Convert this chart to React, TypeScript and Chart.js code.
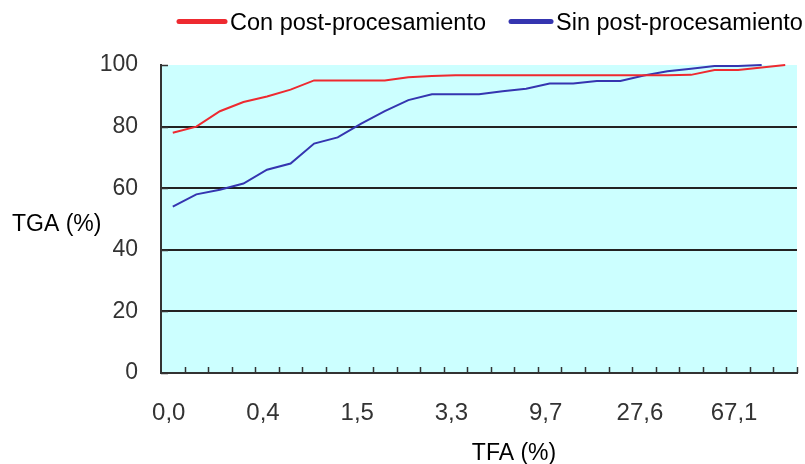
import React, { useEffect, useRef } from "react";
import { Chart, registerables } from "chart.js";

Chart.register(...registerables);

// TFA (%) category labels (only every 4th category is labelled in the original)
const TFA_LABELS = [
  "0,0", "", "", "", "0,4", "", "", "", "1,5", "", "", "", "3,3", "", "", "",
  "9,7", "", "", "", "27,6", "", "", "", "67,1", "", "",
];

// TGA (%) values
const CON_POST = [
  78, 80, 85, 88, 89.8, 92, 95, 95, 95, 95, 96, 96.4, 96.7, 96.7, 96.7, 96.7,
  96.7, 96.7, 96.7, 96.7, 96.7, 96.7, 96.8, 98.4, 98.4, 99.2, 100,
];
const SIN_POST = [
  54, 58, 59.5, 61.5, 66, 68, 74.5, 76.5, 81, 85, 88.6, 90.5, 90.5, 90.5, 91.5,
  92.3, 94, 94, 94.8, 94.8, 96.6, 98, 98.8, 99.7, 99.7, 100, null,
];

const SERIES_NAMES = ["Con post-procesamiento", "Sin post-procesamiento"];
const Y_TICKS_MAX = 100;
const Y_STEP = 20;

const FONT = '"Liberation Sans", Arial, sans-serif';
const RED = "#ee2a30";
const BLUE = "#3535b0";
const PLOT_BG = "#ccffff";
const AXIS = "#333333";

const decorPlugin = {
  id: "decor",
  beforeDraw(chart: any) {
    const { ctx, chartArea } = chart;
    ctx.save();
    ctx.fillStyle = "#ffffff";
    ctx.fillRect(0, 0, chart.width, chart.height);
    ctx.fillStyle = PLOT_BG;
    ctx.fillRect(chartArea.left, chartArea.top, chartArea.right - chartArea.left, chartArea.bottom - chartArea.top);
    ctx.restore();
  },
  afterDatasetsDraw(chart: any) {
    const { ctx, chartArea, scales } = chart;
    const xs = scales.x;
    const ys = scales.y;
    ctx.save();
    ctx.strokeStyle = AXIS;
    ctx.lineWidth = 1.5;
    // inward tick marks on x axis at category boundaries
    const n = chart.data.labels.length;
    const half = (xs.getPixelForValue(1) - xs.getPixelForValue(0)) / 2;
    for (let i = 1; i <= n; i++) {
      const x = Math.round(xs.getPixelForValue(i - 1) + half) + 0.5;
      ctx.beginPath();
      ctx.moveTo(x, chartArea.bottom);
      ctx.lineTo(x, chartArea.bottom - 6);
      ctx.stroke();
    }
    // inward tick marks on y axis
    ys.ticks.forEach((t: any) => {
      const y = Math.round(ys.getPixelForValue(t.value)) + 0.5;
      ctx.beginPath();
      ctx.moveTo(chartArea.left, y);
      ctx.lineTo(chartArea.left + 7, y);
      ctx.stroke();
    });
    ctx.restore();
  },
  afterDraw(chart: any) {
    const { ctx } = chart;
    ctx.save();
    // legend
    ctx.font = `23.5px ${FONT}`;
    ctx.textBaseline = "alphabetic";
    ctx.textAlign = "left";
    const lens = [46, 40];
    let x = 179;
    chart.data.datasets.forEach((ds: any, i: number) => {
      ctx.strokeStyle = ds.borderColor;
      ctx.lineWidth = 5;
      ctx.lineCap = "round";
      ctx.beginPath();
      ctx.moveTo(x, 21.5);
      ctx.lineTo(x + lens[i], 21.5);
      ctx.stroke();
      x += lens[i] + 5;
      ctx.fillStyle = "#000";
      ctx.fillText(ds.label, x, 30);
      x += ctx.measureText(ds.label).width + 25;
    });
    // axis titles
    ctx.font = `23px ${FONT}`;
    ctx.fillStyle = "#000";
    ctx.textBaseline = "middle";
    ctx.textAlign = "left";
    ctx.fillText("TGA (%)", 12, 225);
    ctx.textAlign = "center";
    ctx.fillText("TFA (%)", 514, 454);
    ctx.restore();
  },
};

export default function App() {
  const canvasRef = useRef<HTMLCanvasElement | null>(null);

  useEffect(() => {
    const canvas = canvasRef.current;
    if (!canvas) return;
    const chart = new Chart(canvas, {
      type: "line",
      data: {
        labels: TFA_LABELS,
        datasets: [
          {
            label: SERIES_NAMES[0],
            data: CON_POST,
            borderColor: RED,
            backgroundColor: RED,
            borderWidth: 2,
            pointRadius: 0,
            tension: 0,
            clip: 6,
          },
          {
            label: SERIES_NAMES[1],
            data: SIN_POST,
            borderColor: BLUE,
            backgroundColor: BLUE,
            borderWidth: 2,
            pointRadius: 0,
            tension: 0,
            clip: 6,
          },
        ],
      },
      options: {
        responsive: false,
        animation: false,
        devicePixelRatio: 1,
        layout: { padding: { top: 65, right: 8, bottom: 0, left: 0 } },
        plugins: {
          legend: { display: false },
          tooltip: { enabled: false },
        },
        scales: {
          x: {
            type: "category",
            offset: true,
            grid: { display: false },
            border: { display: true, color: AXIS, width: 2 },
            ticks: {
              autoSkip: false,
              maxRotation: 0,
              minRotation: 0,
              padding: 18,
              labelOffset: -4,
              color: "#333",
              font: { family: FONT, size: 24 },
            },
            afterFit: (scale: any) => {
              scale.height = 91;
            },
          },
          y: {
            min: 0,
            max: Y_TICKS_MAX,
            ticks: {
              stepSize: Y_STEP,
              padding: 23,
              color: "#333",
              font: { family: FONT, size: 23 },
            },
            grid: {
              drawTicks: false,
              lineWidth: 2,
              color: (c: any) =>
                c.tick && (c.tick.value === 0 || c.tick.value === Y_TICKS_MAX) ? "rgba(0,0,0,0)" : "#222",
            },
            border: { display: true, color: AXIS, width: 2 },
            afterFit: (scale: any) => {
              scale.width = 161;
            },
          },
        },
      },
      plugins: [decorPlugin],
    });
    return () => chart.destroy();
  }, []);

  return (
    <div style={{ position: "fixed", left: 0, top: 0, width: 805, height: 464, background: "#fff" }}>
      <canvas ref={canvasRef} width={805} height={464} style={{ display: "block" }} />
    </div>
  );
}
